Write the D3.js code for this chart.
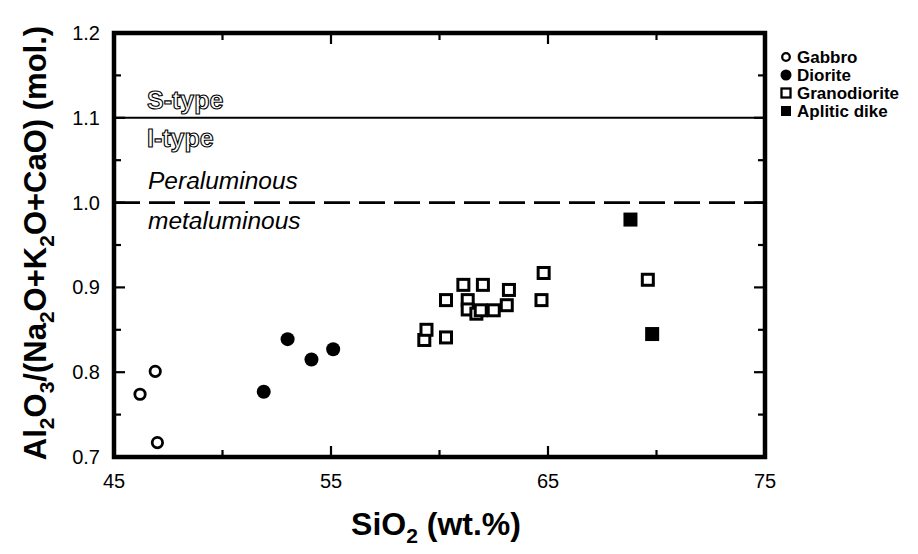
<!DOCTYPE html>
<html>
<head>
<meta charset="utf-8">
<script src="https://cdn.jsdelivr.net/npm/d3@7"></script>
<style>
  body { margin: 0; background: #fff; }
  svg text { font-family: "Liberation Sans", Arial, Helvetica, sans-serif; }
</style>
</head>
<body>
<div id="chart"></div>
<script>
// data
var gabbroSi = [46.2, 46.9, 47.0];
var gabbroAl = [0.774, 0.801, 0.717];
var dioriteSi = [51.9, 53.0, 54.1, 55.1];
var dioriteAl = [0.777, 0.839, 0.815, 0.827];
var granoSi = [59.3, 59.4, 60.3, 60.3, 61.1, 61.3, 61.3, 61.7, 61.9, 62.0, 62.5, 63.1, 63.2, 64.7, 64.8, 69.6];
var granoAl = [0.838, 0.850, 0.841, 0.885, 0.903, 0.885, 0.874, 0.869, 0.873, 0.903, 0.873, 0.879, 0.897, 0.885, 0.917, 0.909];
var apliticSi = [68.8, 69.8];
var apliticAl = [0.980, 0.845];
var xTicks = [45, 55, 65, 75];
var yTicks = [0.7, 0.8, 0.9, 1.0, 1.1, 1.2];
var legendNames = ["Gabbro", "Diorite", "Granodiorite", "Aplitic dike"];

var svg = d3.select("#chart").append("svg")
  .attr("width", 918)
  .attr("height", 554);

var x = d3.scaleLinear().domain([45, 75]).range([114, 765]);
var y = d3.scaleLinear().domain([0.7, 1.2]).range([457, 33]);

// inward ticks on all four sides
var ticks = svg.append("g").attr("stroke", "#000").attr("stroke-width", 2.2);
d3.range(45, 75.1, 5).forEach(function (v) {
  var len = v % 10 == 5 ? 11 : 7;
  ticks.append("line").attr("x1", x(v)).attr("x2", x(v)).attr("y1", y(0.7)).attr("y2", y(0.7) - len);
  ticks.append("line").attr("x1", x(v)).attr("x2", x(v)).attr("y1", y(1.2)).attr("y2", y(1.2) + len);
});
d3.range(0.7, 1.201, 0.05).forEach(function (v) {
  var major = Math.abs(Math.round(v * 10) - v * 10) < 0.01;
  var len = major ? 11 : 7;
  ticks.append("line").attr("x1", x(45)).attr("x2", x(45) + len).attr("y1", y(v)).attr("y2", y(v));
  ticks.append("line").attr("x1", x(75)).attr("x2", x(75) - len).attr("y1", y(v)).attr("y2", y(v));
});

// reference lines
svg.append("line")
  .attr("x1", x(45)).attr("x2", x(75)).attr("y1", y(1.1)).attr("y2", y(1.1))
  .attr("stroke", "#000").attr("stroke-width", 2);
svg.append("line")
  .attr("x1", x(45)).attr("x2", x(75)).attr("y1", y(1.0)).attr("y2", y(1.0))
  .attr("stroke", "#000").attr("stroke-width", 2.8).attr("stroke-dasharray", "26,9");

// frame
svg.append("rect")
  .attr("x", x(45)).attr("y", y(1.2))
  .attr("width", x(75) - x(45)).attr("height", y(0.7) - y(1.2))
  .attr("fill", "none").attr("stroke", "#000").attr("stroke-width", 4.5);

// tick labels
svg.append("g").selectAll("text").data(xTicks).join("text")
  .attr("x", function (d) { return x(d); })
  .attr("y", 488)
  .attr("text-anchor", "middle")
  .attr("font-size", 20)
  .text(function (d) { return d; });
svg.append("g").selectAll("text").data(yTicks).join("text")
  .attr("x", 100)
  .attr("y", function (d) { return y(d) + 7; })
  .attr("text-anchor", "end")
  .attr("font-size", 20)
  .text(function (d) { return d3.format(".1f")(d); });

// region labels (outlined)
svg.append("text").attr("x", 147).attr("y", 109)
  .attr("font-size", 25).attr("font-weight", "bold")
  .attr("fill", "#fff").attr("stroke", "#000").attr("stroke-width", 1.1)
  .text("S-type");
svg.append("text").attr("x", 147).attr("y", 147)
  .attr("font-size", 25).attr("font-weight", "bold")
  .attr("fill", "#fff").attr("stroke", "#000").attr("stroke-width", 1.1)
  .text("I-type");
svg.append("text").attr("x", 148).attr("y", 189)
  .attr("font-size", 24.5).attr("font-style", "italic")
  .text("Peraluminous");
svg.append("text").attr("x", 148).attr("y", 229)
  .attr("font-size", 24.5).attr("font-style", "italic")
  .text("metaluminous");

// points
var pts = svg.append("g");
pts.selectAll(".gab").data(gabbroSi).join("circle")
  .attr("cx", function (d) { return x(d); })
  .attr("cy", function (d, i) { return y(gabbroAl[i]); })
  .attr("r", 5.2).attr("fill", "#fff").attr("stroke", "#000").attr("stroke-width", 2.8);
pts.selectAll(".dio").data(dioriteSi).join("circle")
  .attr("cx", function (d) { return x(d); })
  .attr("cy", function (d, i) { return y(dioriteAl[i]); })
  .attr("r", 7).attr("fill", "#000");
pts.selectAll(".gra").data(granoSi).join("rect")
  .attr("x", function (d) { return x(d) - 5.5; })
  .attr("y", function (d, i) { return y(granoAl[i]) - 5.5; })
  .attr("width", 11).attr("height", 11)
  .attr("fill", "#fff").attr("stroke", "#000").attr("stroke-width", 3);
pts.selectAll(".apl").data(apliticSi).join("rect")
  .attr("x", function (d) { return x(d) - 7; })
  .attr("y", function (d, i) { return y(apliticAl[i]) - 7; })
  .attr("width", 14).attr("height", 14)
  .attr("fill", "#000");

// legend
var leg = svg.append("g");
legendNames.forEach(function (name, i) {
  var ly = 57 + i * 18;
  if (i == 0) leg.append("circle").attr("cx", 786).attr("cy", ly).attr("r", 3.8).attr("fill", "#fff").attr("stroke", "#000").attr("stroke-width", 2.3);
  if (i == 1) leg.append("circle").attr("cx", 786).attr("cy", ly).attr("r", 5.5).attr("fill", "#000");
  if (i == 2) leg.append("rect").attr("x", 781.5).attr("y", ly - 4.5).attr("width", 9).attr("height", 9).attr("fill", "#fff").attr("stroke", "#000").attr("stroke-width", 2.3);
  if (i == 3) leg.append("rect").attr("x", 781).attr("y", ly - 5).attr("width", 10).attr("height", 10).attr("fill", "#000");
  leg.append("text").attr("x", 797).attr("y", ly + 6)
    .attr("font-size", 17).attr("font-weight", "bold")
    .text(name);
});

// axis titles
var xt = svg.append("text").attr("x", 436).attr("y", 535)
  .attr("text-anchor", "middle").attr("font-size", 32).attr("font-weight", "bold");
xt.append("tspan").text("SiO");
xt.append("tspan").attr("font-size", 21).attr("dy", 8).text("2");
xt.append("tspan").attr("dy", -8).text(" (wt.%)");

var yt = svg.append("text")
  .attr("transform", "translate(46,243) rotate(-90)")
  .attr("text-anchor", "middle").attr("font-size", 31).attr("font-weight", "bold");
var parts = [["Al", 0], ["2", 1], ["O", 0], ["3", 1], ["/(Na", 0], ["2", 1], ["O+K", 0], ["2", 1], ["O+CaO) (mol.)", 0]];
var prev = 0;
parts.forEach(function (p) {
  var shift = p[1] ? 8 : 0;
  yt.append("tspan")
    .attr("font-size", p[1] ? 21 : 31)
    .attr("dy", shift - prev)
    .text(p[0]);
  prev = shift;
});
</script>
</body>
</html>
